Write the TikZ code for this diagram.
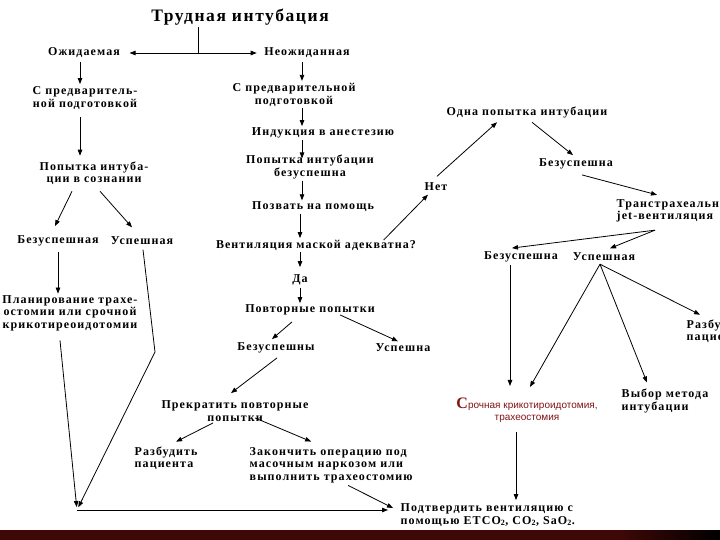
\documentclass[tikz,border=0pt]{standalone}
\usepackage{fontspec}
\setmainfont[LetterSpace=9]{Liberation Serif}
\newfontfamily\redsans{Liberation Sans}
\newfontfamily\redserif{Liberation Serif}
\usetikzlibrary{arrows.meta,calc}
\definecolor{darkred}{RGB}{130,20,20}
\definecolor{barred}{RGB}{62,8,6}
\begin{document}
\begin{tikzpicture}[x=1pt,y=-1pt,
  lbl/.style={inner sep=1.5pt,font=\bfseries\fontsize{12}{12.5}\selectfont,align=center},
  lbll/.style={lbl,align=left,anchor=west},
  arr/.style={-{Triangle[length=6pt,width=4.5pt]},line width=0.8pt},
  ln/.style={line width=0.8pt}]
\useasboundingbox (0,0) rectangle (720,540);
\fill[white] (0,0) rectangle (720,540);
% bottom bar
\fill[barred] (0,530) rectangle (620,540);
\shade[left color=barred,right color=black] (619.5,530) rectangle (720,540);

% nodes
\node[lbl,font=\bfseries\fontsize{17.5}{20}\selectfont] (title) at (240,17) {Трудная интубация};
\node[lbl] (exp) at (84,53) {Ожидаемая};
\node[lbl] (unexp) at (307,53) {Неожиданная};
\node[lbl] (prep1) at (85,98) {С предваритель-\\ной подготовкой};
\node[lbl] (att1) at (94,173) {Попытка интуба-\\ции в сознании};
\node[lbl] (fail1) at (58,241) {Безуспешная};
\node[lbl] (succ1) at (142,241) {Успешная};
\node[lbl] (plan) at (70,313) {Планирование трахе-\\остомии или срочной\\крикотиреоидотомии};
\node[lbl] (prep2) at (294,95) {С предварительной\\подготовкой};
\node[lbl] (ind) at (323,133) {Индукция в анестезию};
\node[lbl] (att2) at (310,167) {Попытка интубации\\безуспешна};
\node[lbl] (call) at (313,207) {Позвать на помощь};
\node[lbl] (vent) at (316,245) {Вентиляция маской адекватна?};
\node[lbl] (yes) at (300,280) {Да};
\node[lbl] (rep) at (310,310) {Повторные попытки};
\node[lbl] (fail2) at (276,348) {Безуспешны};
\node[lbl] (succ2) at (403,348) {Успешна};
\node[lbl] (stop) at (235,411) {Прекратить повторные\\попытки};
\node[lbll] (wake1) at (133,458) {Разбудить\\пациента};
\node[lbll] (finish) at (248,465) {Закончить операцию под\\масочным наркозом или\\выполнить трахеостомию};
\node[lbll] (confirm) at (399,515) {Подтвердить вентиляцию с\\помощью ETCO\textsubscript{2}, CO\textsubscript{2}, SaO\textsubscript{2}.};
\node[lbl] (no) at (436,187) {Нет};
\node[lbl] (one) at (527,113) {Одна попытка интубации};
\node[lbl] (fail3) at (576,164) {Безуспешна};
\node[lbll] (jet) at (615,211) {Транстрахеальная\\jet-вентиляция};
\node[lbl] (fail4) at (521,257) {Безуспешна};
\node[lbl] (succ4) at (604,257) {Успешная};
\node[lbll] (wake2) at (685,331) {Разбудить\\пациента};
\node[lbll] (choose) at (620,401) {Выбор метода\\интубации};
\node[inner sep=1.5pt,fill=white,align=center,text=darkred,font=\redsans\fontsize{10}{12}\selectfont] (emerg) at (527,410)
  {{\redserif\bfseries\fontsize{16}{12}\selectfont С}рочная крикотироидотомия,\\трахеостомия};

% helper coordinates
\coordinate (j) at (198,53);
\coordinate (colA) at (80,0);
\coordinate (colB) at (302,0);
\coordinate (colC) at (300,0);
\coordinate (corner) at (77,510);
\coordinate (bend) at (155,352);

% connectors
\draw[ln] (title.south -| j) -- (j);
\draw[arr,shorten >=8pt] (j) -- (exp.east);
\draw[arr,shorten >=6pt] (j) -- (unexp.west);
\draw[arr,shorten <=2pt,shorten >=1pt] (exp.south -| colA) -- (prep1.north -| colA);
\draw[arr,shorten <=6pt,shorten >=4pt] (prep1.south -| colA) -- (att1.north -| colA);
\draw[arr] ($(att1.south)+(-22,5)$) -- ($(fail1.north)+(-3,-8)$);
\draw[arr] ($(att1.south)+(6,5)$) -- ($(succ1.north)+(-10,-8)$);
\draw[arr] ($(fail1.south)+(0,4)$) -- (fail1.south |- plan.north);
\draw[arr,shorten >=3pt] ($(plan.south)+(-10,8)$) -- (corner);
\draw[arr,shorten >=3pt] ($(succ1.south)+(1,3)$) -- (bend) -- (corner);
\draw[arr,shorten >=11pt] (corner) -- (corner -| confirm.west);

\draw[arr,shorten <=2pt,shorten >=1pt] (unexp.south -| colB) -- (prep2.north -| colB);
\draw[arr] (prep2.south -| colB) -- (ind.north -| colB);
\draw[arr,shorten >=-5pt] (ind.south -| colB) -- (att2.north -| colB);
\draw[arr] (att2.south -| colB) -- (call.north -| colB);
\draw[arr] (call.south -| colC) -- (vent.north -| colC);
\draw[arr,shorten >=6pt] (vent.south -| colC) -- (yes.north -| colC);
\draw[arr,shorten <=1pt] (yes.south -| colC) -- (rep.north -| colC);
\draw[arr] ($(rep.south)+(-18,5)$) -- ($(fail2.north)+(-4,-2)$);
\draw[arr] ($(rep.south)+(30,-2)$) -- ($(succ2.north)+(-5,-1)$);
\draw[arr] ($(fail2.south)+(1,3)$) -- ($(stop.north)+(-4,-6)$);
\draw[arr] ($(stop.south)+(-22,0)$) -- ($(wake1.north)+(10,-3)$);
\draw[arr] ($(stop.south)+(20,-5)$) -- ($(finish.north)+(-20,-4)$);
\draw[arr] ($(finish.south)+(17,1)$) -- ($(confirm.west)+(-6,-7)$);

\draw[arr] ($(vent.east)+(-34,-5)$) -- ($(no.south)+(-8,2)$);
\draw[arr] ($(no.north)+(1,-5)$) -- ($(one.south)+(-30,2)$);
\draw[arr] ($(one.south)+(5,2)$) -- ($(fail3.north)+(-3,-2)$);
\draw[arr] ($(fail3.south)+(6,4)$) -- ($(jet.north west)+(42,-3)$);
\draw[arr] ($(jet.south west)+(40,6)$) -- ($(fail4.north)+(-9,-2)$);
\draw[arr] ($(jet.south west)+(40,6)$) -- ($(succ4.north)+(6,-3)$);
\draw[arr] ($(fail4.south)+(-11,1.5)$) -- ($(emerg.north)+(-17,-10)$);
\draw[arr] ($(succ4.south)+(-4,1.5)$) -- ($(emerg.north)+(3,-9)$);
\draw[arr] ($(succ4.south)+(-4,1.5)$) -- ($(choose.north west)+(27,-5)$);
\draw[arr] ($(succ4.south)+(-4,1.5)$) -- ($(wake2.north west)+(15,-3)$);
\draw[arr] ($(emerg.south)+(-11,8)$) -- ($(confirm.north west)+(117,-2)$);
\end{tikzpicture}
\end{document}
